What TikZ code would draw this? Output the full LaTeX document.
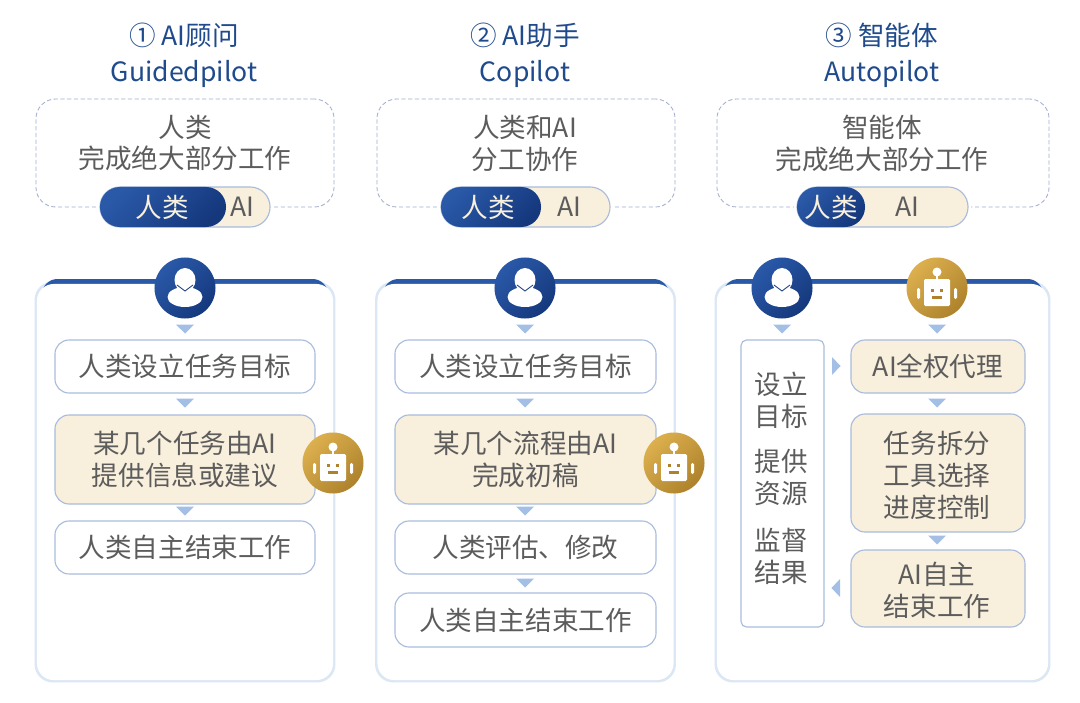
\documentclass[tikz,border=0pt]{standalone}
\usepackage{fontspec}
\setmainfont{Noto Sans CJK SC}
\usetikzlibrary{positioning, shapes}
\definecolor{navy}{HTML}{1F4A8C}
\definecolor{inktext}{HTML}{5C5C5C}
\definecolor{edgeblue}{HTML}{A9BCDC}
\definecolor{dashcol}{HTML}{A3AFCF}
\definecolor{cream}{HTML}{F8EFDC}
\definecolor{glow}{HTML}{DCE7F6}
\definecolor{tricol}{HTML}{A3BFE6}
\definecolor{darkL}{HTML}{2A59A8}
\definecolor{darkR}{HTML}{15387D}
\definecolor{goldL}{HTML}{DCB04E}
\definecolor{goldR}{HTML}{AE822C}
\begin{document}
\begin{tikzpicture}[x=0.025cm, y=-0.025cm, inner sep=0pt, outer sep=0pt,
      every node/.style={font=\fontsize{18.9}{22.7}\selectfont, text=inktext, align=center},
      title/.style={text=navy},
      dashbox/.style={draw=dashcol, semithick, dash pattern=on 3pt off 1.8pt, rounded corners=14pt},
      panel/.style={draw=glow, line width=2pt, fill=white, rounded corners=12pt},
      panelin/.style={fill=white, rounded corners=12pt},
      topbar/.style={fill=darkL, rounded corners=11pt},
      plainbox/.style={draw=edgeblue, fill=white, thick, rounded corners=10pt},
      creambox/.style={plainbox, fill=cream},
      pillout/.style={draw=edgeblue, thick, fill=cream, rounded corners=14.1pt, minimum height=1cm,
        preaction={draw=white, line width=4pt}},
      pillin/.style={left color=darkL, right color=darkR, shading angle=45, rounded corners=14.1pt, minimum height=1cm},
      human/.style={circle, minimum size=1.525cm, left color=darkL, right color=darkR, shading angle=45},
      robot/.style={circle, minimum size=1.525cm, left color=goldL, right color=goldR, shading angle=45},
      tridown/.pic={\fill[tricol] (-9,-4.5) -- (9,-4.5) -- (0,4.5) -- cycle;},
      triright/.pic={\fill[tricol] (-4,-9) -- (4.5,0) -- (-4,9) -- cycle;},
      trileft/.pic={\fill[tricol] (4,-9) -- (-4.5,0) -- (4,9) -- cycle;},
      humanglyph/.pic={
        \fill[white] (0,-8) ellipse[x radius=10.5, y radius=12];
        \fill[white] (0,9) ellipse[x radius=17.5, y radius=10];
        \draw[darkR, line width=0.6pt] (-8,-3) -- (0,3) -- (8,-3);},
      robotglyph/.pic={
        \fill[white, rounded corners=1pt] (-13,-9) rectangle (13,18);
        \fill[white] (0,-16) circle[radius=4.5];
        \fill[white] (-1.3,-16) rectangle (1.3,-9);
        \fill[white, rounded corners=1pt] (-20,0) rectangle (-17,11);
        \fill[white, rounded corners=1pt] (17,0) rectangle (20,11);
        \fill[goldR] (-6,1) rectangle (-3,3.5);
        \fill[goldR] (3,1) rectangle (6,3.5);
        \fill[goldR] (-5,8) rectangle (5,10.5);}]
      \useasboundingbox (0,0) rectangle (1080,703);
      \fill[white] (0,0) rectangle (1080,703);

      % guidedpilot column
      \node[title](t_1) at(184,35) {① AI顾问};
      \node[title](n_1) at(184,74) {Guidedpilot};
      \node[dashbox, minimum width=7.45cm, minimum height=2.7cm](d_1) at(185,153) {};
      \node(dt_1) at(185,143) {人类\\完成绝大部分工作};
      \node[pillout, minimum width=4.25cm](po_1) at(185,207) {};
      \node[pillin, minimum width=3.15cm](pi_1) at(163,207) {};
      \node[text=cream](ph_1) at(162,207) {人类};
      \node(pa_1) at(242,207) {AI};
      \node[panel, minimum width=7.45cm, minimum height=9.95cm](p_1) at(185,482) {};
      \fill[topbar] (42,279) rectangle (328,310);
      \node[panelin, minimum width=7.4cm, minimum height=9.9cm](q_1) at(185,482) {};
      \node[human](h_1) at(185,288) {};
      \pic at (h_1) {humanglyph};
      \pic at (185,329) {tridown};
      \node[plainbox, minimum width=6.5cm, minimum height=1.325cm](a_1) at(185,366.5) {人类设立任务目标};
      \pic at (185,403) {tridown};
      \node[creambox, minimum width=6.5cm, minimum height=2.225cm](a_2) at(185,459.5) {某几个任务由AI\\提供信息或建议};
      \pic at (185,511) {tridown};
      \node[plainbox, minimum width=6.5cm, minimum height=1.325cm](a_3) at(185,547.5) {人类自主结束工作};
      \node[robot](r_1) at(333,463) {};
      \pic at (r_1) {robotglyph};

      % copilot column
      \node[title](t_2) at(525,35) {② AI助手};
      \node[title](n_2) at(525,74) {Copilot};
      \node[dashbox, minimum width=7.45cm, minimum height=2.7cm](d_2) at(526,153) {};
      \node(dt_2) at(525,143) {人类和AI\\分工协作};
      \node[pillout, minimum width=4.225cm](po_2) at(525.5,207) {};
      \node[pillin, minimum width=2.5cm](pi_2) at(491,207) {};
      \node[text=cream](ph_2) at(488,207) {人类};
      \node(pa_2) at(569,207) {AI};
      \node[panel, minimum width=7.45cm, minimum height=9.95cm](p_2) at(525.5,482) {};
      \fill[topbar] (383,279) rectangle (669,310);
      \node[panelin, minimum width=7.4cm, minimum height=9.9cm](q_2) at(525.5,482) {};
      \node[human](h_2) at(525,288) {};
      \pic at (h_2) {humanglyph};
      \pic at (525,329) {tridown};
      \node[plainbox, minimum width=6.525cm, minimum height=1.325cm](b_1) at(525.5,366.5) {人类设立任务目标};
      \pic at (525,403) {tridown};
      \node[creambox, minimum width=6.525cm, minimum height=2.225cm](b_2) at(525.5,459.5) {某几个流程由AI\\完成初稿};
      \pic at (525,511) {tridown};
      \node[plainbox, minimum width=6.525cm, minimum height=1.325cm](b_3) at(525.5,547.5) {人类评估、修改};
      \pic at (525,583) {tridown};
      \node[plainbox, minimum width=6.525cm, minimum height=1.35cm](b_4) at(525.5,620) {人类自主结束工作};
      \node[robot](r_2) at(674,463) {};
      \pic at (r_2) {robotglyph};

      % autopilot column
      \node[title](t_3) at(882,35) {③ 智能体};
      \node[title](n_3) at(882,74) {Autopilot};
      \node[dashbox, minimum width=8.3cm, minimum height=2.7cm](d_3) at(883,153) {};
      \node(dt_3) at(882,143) {智能体\\完成绝大部分工作};
      \node[pillout, minimum width=4.275cm](po_3) at(882.5,207) {};
      \node[pillin, minimum width=1.7cm](pi_3) at(831,207) {};
      \node[text=cream](ph_3) at(831,207) {人类};
      \node(pa_3) at(907,207) {AI};
      \node[panel, minimum width=8.325cm, minimum height=9.95cm](p_3) at(882.5,482) {};
      \fill[topbar] (723,279) rectangle (1043,310);
      \node[panelin, minimum width=8.275cm, minimum height=9.9cm](q_3) at(882.5,482) {};
      \node[human](h_3) at(782,288) {};
      \pic at (h_3) {humanglyph};
      \node[robot](r_3) at(937,288) {};
      \pic at (r_3) {robotglyph};
      \pic at (782,329) {tridown};
      \pic at (937,329) {tridown};
      \node[plainbox, rounded corners=4pt, minimum width=2.075cm, minimum height=7.175cm](c_0) at(782.5,483.5) {};
      \node(c_1) at(781,400) {设立\\目标};
      \node(c_2) at(781,477) {提供\\资源};
      \node(c_3) at(781,556) {监督\\结果};
      \pic at (836,366) {triright};
      \pic at (836,588) {trileft};
      \node[creambox, minimum width=4.35cm, minimum height=1.325cm](e_1) at(938,366.5) {AI全权代理};
      \pic at (937,403) {tridown};
      \node[creambox, minimum width=4.35cm, minimum height=2.95cm](e_2) at(938,473) {};
      \node(et_2) at(937,475) {任务拆分\\工具选择\\进度控制};
      \pic at (937,540) {tridown};
      \node[creambox, minimum width=4.35cm, minimum height=1.925cm](e_3) at(938,588.5) {};
      \node(et_3) at(937,590.5) {AI自主\\结束工作};
  \end{tikzpicture}
\end{document}
